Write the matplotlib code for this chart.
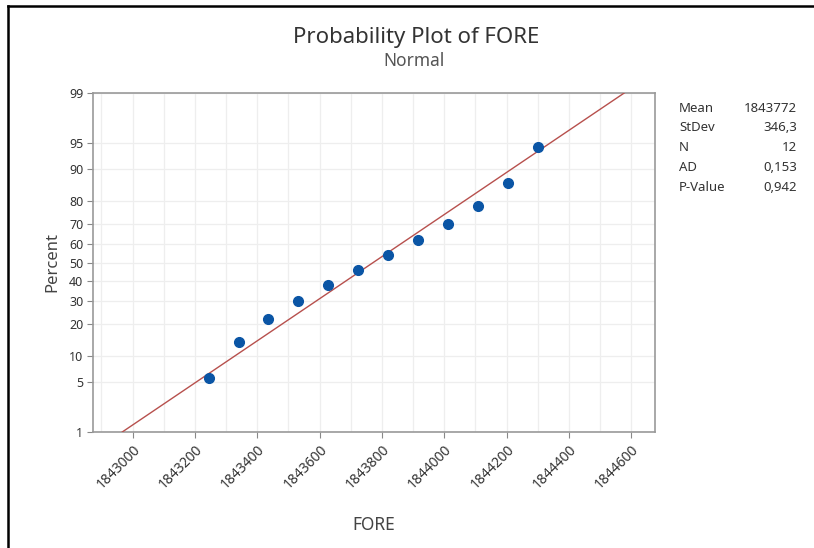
import numpy as np
import matplotlib
matplotlib.use("Agg")
import matplotlib.pyplot as plt
from matplotlib.lines import Line2D
from statistics import NormalDist

# data
fore = [1843244, 1843340, 1843436, 1843532, 1843628, 1843724,
        1843820, 1843916, 1844012, 1844108, 1844204, 1844300]
pct_ticks = [1, 5, 10, 20, 30, 40, 50, 60, 70, 80, 90, 95, 99]
x_ticks = [1843000, 1843200, 1843400, 1843600, 1843800,
           1844000, 1844200, 1844400, 1844600]
stat_names = ["Mean", "StDev", "N", "AD", "P-Value"]
stat_values = ["1843772", "346,3", "12", "0,153", "0,942"]

nd = NormalDist()
z = lambda p: nd.inv_cdf(p / 100.0)

n = len(fore)
x = np.sort(np.array(fore, dtype=float))
ranks = [(i - 0.3) / (n + 0.4) * 100 for i in range(1, n + 1)]
zpts = [z(p) for p in ranks]
mu, sd = x.mean(), x.std(ddof=1)

plt.rcParams["font.family"] = ["Noto Sans", "DejaVu Sans"]
fig = plt.figure(figsize=(8.14, 5.48), dpi=100)
ax = fig.add_axes([93/814, 1-432/548, (655-93)/814, (432-93)/548])

# fitted line from 1% to 99%
zl = np.array([z(1), z(99)])
ax.plot(mu + zl * sd, zl, color="#b7504d", lw=1.0, zorder=3)
ax.plot(x, zpts, "o", color="#0a55a5", ms=7, zorder=4)

ax.set_xlim(1842873, 1844676)
ax.set_ylim(z(1), z(99))
ax.set_yticks([z(p) for p in pct_ticks])
ax.set_yticklabels([str(p) for p in pct_ticks], fontsize=9, color="#333333")
ax.set_xticks(x_ticks)
ax.set_xticklabels([str(v) for v in x_ticks], rotation=45, ha="right",
                   rotation_mode="anchor", fontsize=10, color="#333333")
ax.set_xticks(np.arange(1842900, 1844700, 100), minor=True)
ax.tick_params(axis="x", which="minor", length=0)
ax.tick_params(length=4, width=0.8, color="#888888", pad=3)
ax.grid(True, which="both", axis="x", color="#eeeeee", lw=0.9)
ax.grid(True, which="major", axis="y", color="#eeeeee", lw=0.9)
ax.set_axisbelow(True)
for s in ax.spines.values():
    s.set_color("#999999")
    s.set_linewidth(1.2)

ax.set_ylabel("Percent", fontsize=12, color="#444444", labelpad=6)
ax.set_xlabel("FORE", fontsize=12.5, color="#444444", labelpad=18)

fig.text(416/814, 1-37/548, "Probability Plot of FORE", ha="center", va="center",
         fontsize=16, color="#333333")
fig.text(414/814, 1-61/548, "Normal", ha="center", va="center",
         fontsize=12.5, color="#555555")

for i, (nm, val) in enumerate(zip(stat_names, stat_values)):
    yy = 1 - (108 + i * 19.8) / 548
    fig.text(679/814, yy, nm, ha="left", va="center", fontsize=9.5, color="#333333")
    fig.text(797/814, yy, val, ha="right", va="center", fontsize=9.5, color="#333333")

# black page frame
fig.add_artist(Line2D([8/814, 8/814], [0, 1-6/548], color="black", lw=1.8))
fig.add_artist(Line2D([8/814, 1], [1-6/548, 1-6/548], color="black", lw=1.8))

fig.savefig("out.png", dpi=100)
